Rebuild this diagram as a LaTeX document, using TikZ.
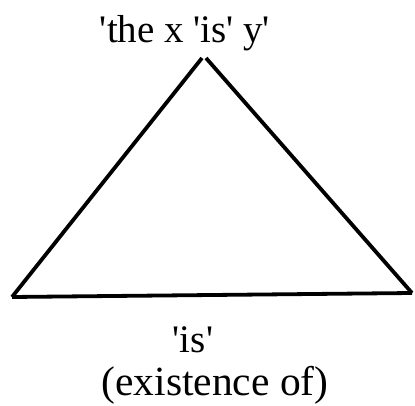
\documentclass[tikz,border=0pt]{standalone}
\usepackage{fontspec}
\setmainfont{Liberation Serif}[Ligatures=TeXOff]
\begin{document}
\begin{tikzpicture}[x=1pt,y=1pt,
  edge/.style={line width=3.8pt},
  lbl/.style={inner sep=0pt,anchor=base,font=\fontsize{39}{41}\selectfont}]
\useasboundingbox (0,0) rectangle (415,405);
\coordinate (apl) at (202,347);
\coordinate (apr) at (206,347);
\coordinate (bl) at (12,108);
\coordinate (br) at (412,112);
\draw[edge] (apl) -- (bl);
\draw[edge] (apr) -- (br);
\draw[edge] (bl) -- (br);
\node[lbl] (top) at (185,362) {'the x 'is' y'};
\node[lbl] (is) at (193,53) {'is'};
\node[lbl,font=\fontsize{41.5}{43}\selectfont] (ex) at (215,10) {(existence of)};
\end{tikzpicture}
\end{document}
